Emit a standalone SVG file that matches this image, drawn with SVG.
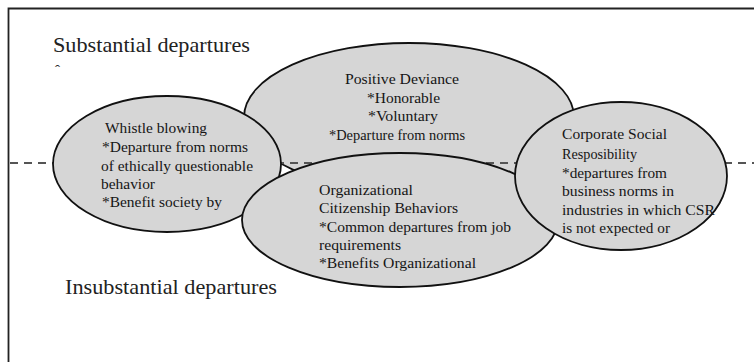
<svg xmlns="http://www.w3.org/2000/svg" width="754" height="362" viewBox="0 0 754 362">
  <style>
    .bubble { fill: #d6d6d6; stroke: #111; stroke-width: 1.8; }
    .t { font-family: "Liberation Serif", "Times New Roman", serif; font-size: 15px; fill: #151515; }
    .h { font-family: "Liberation Serif", "Times New Roman", serif; font-size: 22px; fill: #222; }
    .divider { stroke: #555; stroke-width: 2; stroke-dasharray: 8 6; fill: none; }
    .frame { fill: none; stroke: #222; stroke-width: 1.8; }
  </style>
  <rect x="0" y="0" width="754" height="362" fill="#ffffff"/>
  <path class="frame" d="M8.5,362 V8.5 H754"/>

  <g id="positive-deviance">
    <ellipse class="bubble" cx="409" cy="117" rx="165" ry="74"/>
    <text class="t" x="345" y="84" textLength="114" lengthAdjust="spacingAndGlyphs">Positive Deviance</text>
    <text class="t" x="367" y="102.5" textLength="73" lengthAdjust="spacingAndGlyphs">*Honorable</text>
    <text class="t" x="368" y="121" textLength="70" lengthAdjust="spacingAndGlyphs">*Voluntary</text>
    <text class="t" x="329" y="139.5" textLength="136" lengthAdjust="spacingAndGlyphs">*Departure from norms</text>
  </g>

  <g id="divider">
    <line class="divider" x1="10" y1="163" x2="754" y2="163"/>
  </g>

  <g id="whistle-blowing">
    <ellipse class="bubble" cx="167" cy="164" rx="114" ry="68"/>
    <text class="t" x="105" y="132.5" textLength="102" lengthAdjust="spacingAndGlyphs">Whistle blowing</text>
    <text class="t" x="102" y="152" textLength="146" lengthAdjust="spacingAndGlyphs">*Departure from norms</text>
    <text class="t" x="101" y="171" textLength="152" lengthAdjust="spacingAndGlyphs">of ethically questionable</text>
    <text class="t" x="101" y="189" textLength="54" lengthAdjust="spacingAndGlyphs">behavior</text>
    <text class="t" x="102" y="207" textLength="120" lengthAdjust="spacingAndGlyphs">*Benefit society by</text>
  </g>

  <g id="ocb">
    <ellipse class="bubble" cx="400" cy="220" rx="158" ry="67"/>
    <text class="t" x="319" y="194.5" textLength="94" lengthAdjust="spacingAndGlyphs">Organizational</text>
    <text class="t" x="319" y="213" textLength="139" lengthAdjust="spacingAndGlyphs">Citizenship Behaviors</text>
    <text class="t" x="319" y="231.5" textLength="192" lengthAdjust="spacingAndGlyphs">*Common departures from job</text>
    <text class="t" x="319" y="249.5" textLength="82" lengthAdjust="spacingAndGlyphs">requirements</text>
    <text class="t" x="319" y="268" textLength="157" lengthAdjust="spacingAndGlyphs">*Benefits Organizational</text>
  </g>

  <g id="csr">
    <ellipse class="bubble" cx="621" cy="176" rx="106" ry="74"/>
    <text class="t" x="562" y="139" textLength="105" lengthAdjust="spacingAndGlyphs">Corporate Social</text>
    <text class="t" x="562" y="158.5" textLength="75" lengthAdjust="spacingAndGlyphs">Resposibility</text>
    <text class="t" x="562" y="177.5" textLength="105" lengthAdjust="spacingAndGlyphs">*departures from</text>
    <text class="t" x="562" y="196.3" textLength="112" lengthAdjust="spacingAndGlyphs">business norms in</text>
    <text class="t" x="562" y="214.7" textLength="153" lengthAdjust="spacingAndGlyphs">industries in which CSR</text>
    <text class="t" x="562" y="232.5" textLength="108" lengthAdjust="spacingAndGlyphs">is not expected or</text>
  </g>

  <g id="labels">
    <text class="h" x="53" y="52" textLength="197" lengthAdjust="spacingAndGlyphs">Substantial departures</text>
    <text class="h" x="55" y="75" style="font-size:15px">ˆ</text>
    <text class="h" x="65" y="294" textLength="212" lengthAdjust="spacingAndGlyphs">Insubstantial departures</text>
  </g>
</svg>
